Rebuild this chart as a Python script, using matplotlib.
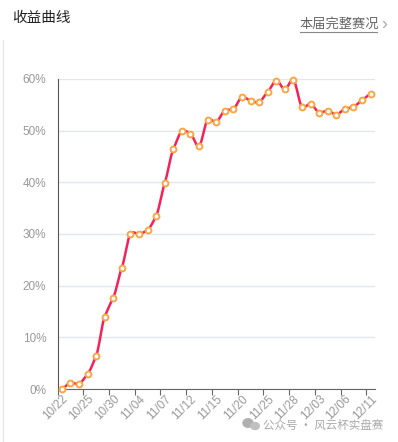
import numpy as np
import matplotlib.pyplot as plt
from matplotlib.lines import Line2D
from matplotlib.patches import Ellipse

plt.rcParams['font.family'] = ['Liberation Sans', 'Noto Sans CJK SC', 'DejaVu Sans']

dates = ["10/22", "10/23", "10/24", "10/25", "10/28", "10/29", "10/30", "10/31",
         "11/01", "11/04", "11/05", "11/06", "11/07", "11/08", "11/11", "11/12",
         "11/13", "11/14", "11/15", "11/18", "11/19", "11/20", "11/21", "11/22",
         "11/25", "11/26", "11/27", "11/28", "11/29", "12/02", "12/03", "12/04",
         "12/05", "12/06", "12/09", "12/10", "12/11"]
returns = [0.0, 1.2, 1.0, 2.9, 6.4, 14.0, 17.7, 23.5,
           30.0, 30.0, 30.8, 33.5, 39.9, 46.4, 49.9, 49.4,
           47.0, 52.1, 51.7, 53.9, 54.2, 56.5, 55.8, 55.5,
           57.5, 59.7, 58.0, 59.8, 54.6, 55.2, 53.5, 53.9,
           53.1, 54.2, 54.6, 55.9, 57.1]
yticks = [0, 10, 20, 30, 40, 50, 60]


def smooth(x, y, n=12):
    # cardinal spline through the points, like a smoothed line chart
    x = np.asarray(x, float)
    y = np.asarray(y, float)
    m = np.zeros_like(y)
    m[1:-1] = (y[2:] - y[:-2]) / 2 * 0.7
    m[0] = (y[1] - y[0]) * 0.5
    m[-1] = (y[-1] - y[-2]) * 0.5
    xs, ys = [], []
    for i in range(len(x) - 1):
        t = np.linspace(0, 1, n, endpoint=False)
        h00 = 2 * t**3 - 3 * t**2 + 1
        h10 = t**3 - 2 * t**2 + t
        h01 = -2 * t**3 + 3 * t**2
        h11 = t**3 - t**2
        xs.append(x[i] + t * (x[i + 1] - x[i]))
        ys.append(h00 * y[i] + h10 * m[i] + h01 * y[i + 1] + h11 * m[i + 1])
    xs.append([x[-1]])
    ys.append([y[-1]])
    return np.concatenate(xs), np.concatenate(ys)


fig = plt.figure(figsize=(3.98, 4.42), dpi=100)
ax = fig.add_axes([0.1445, 0.1199, 0.7975, 0.7014])

x = np.arange(len(dates))
sx, sy = smooth(x, returns)
ax.plot(sx, sy, color='#f5225a', lw=1.8, zorder=3, solid_capstyle='round',
        clip_on=False)
ax.plot(x, returns, ls='none', marker='o', ms=4.2, mfc='white',
        mec='#f9a645', mew=1.4, zorder=4, clip_on=False)

ax.set_xlim(-0.5, len(dates) - 0.5)
ax.set_ylim(0, 60)
ax.set_yticks(yticks)
ax.set_yticklabels([f"{v}%" for v in yticks])
ax.grid(axis='y', color='#e3e6f0', lw=1)
ax.set_axisbelow(True)

for s in ['top', 'right']:
    ax.spines[s].set_visible(False)
ax.spines['left'].set_color('#555555')
ax.spines['bottom'].set_color('#666666')

ax.tick_params(axis='y', length=0, pad=8, labelsize=8.5, labelcolor='#999999')
ax.set_xticks(np.arange(0, len(dates) + 1, 3) - 0.5)
ax.set_xticklabels([])
ax.tick_params(axis='x', length=4, color='#666666')
ax.set_xticks(x[::3], minor=True)
ax.set_xticklabels(dates[::3], minor=True, rotation=45, ha='right',
                   rotation_mode='anchor', fontsize=8.5, color='#999999')
ax.tick_params(axis='x', which='minor', length=0, pad=3)

fig.text(12 / 398, 1 - 18 / 442, "收益曲线", fontsize=10.5, color='#222222',
         va='center', ha='left', family=['Noto Sans CJK SC'])
fig.text(300 / 398, 1 - 24 / 442, "本届完整赛况", fontsize=9.5, color='#666666',
         va='center', ha='left', family=['Noto Sans CJK SC'])
fig.add_artist(Line2D([300 / 398, 377 / 398], [1 - 32 / 442, 1 - 32 / 442],
                      color='#888888', lw=0.8))
fig.text(381 / 398, 1 - 24 / 442, "›", fontsize=13, color='#aaaaaa',
         va='center', ha='left')

# card border on the left
fig.add_artist(Line2D([3 / 398, 3 / 398], [0, 1 - 40 / 442], color='#e6e6e6', lw=1))

# watermark
fig.add_artist(Ellipse((248 / 398, 1 - 423 / 442), 10 / 398, 8.5 / 442, color='#b0b0b0'))
fig.add_artist(Ellipse((255 / 398, 1 - 426 / 442), 8.5 / 398, 7 / 442, color='#c0c0c0'))
fig.text(263 / 398, 1 - 425 / 442, "公众号 · 风云杯实盘赛", fontsize=8.3,
         color='#aaaaaa', va='center', ha='left', family=['Noto Sans CJK SC'])

fig.savefig("out.png", dpi=100)
